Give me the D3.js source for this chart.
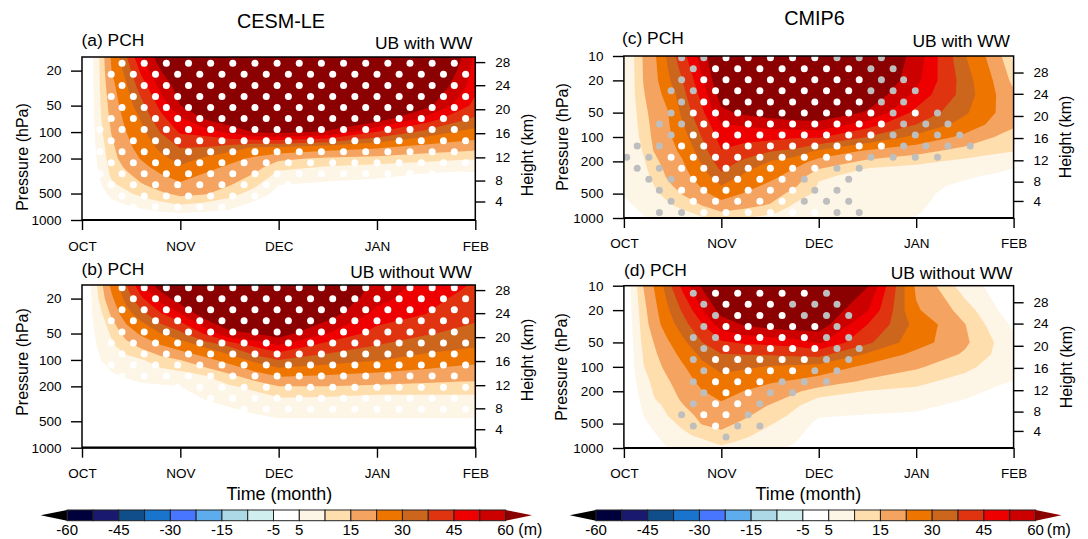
<!DOCTYPE html>
<html lang="en">
<head>
    <meta charset="utf-8">
    <title>PCH composites</title>
    <script type="text/javascript" src="https://cdn.jsdelivr.net/npm/d3@7"></script>
    <style type="text/css">
        html, body { margin: 0; padding: 0; background: #fff; }
        svg { display: block; }
        text { font-family: "Liberation Sans", Arial, sans-serif; fill: #000; }
    </style>
</head>
<body>
    <script type="text/javascript">
        // Grid axes of the anomaly fields (months after 1 Oct, hPa from the surface up)
        const timeMonths = [0, 0.1, 0.2, 0.3, 0.45, 0.6, 0.8, 1, 1.25, 1.5, 1.75, 2, 2.5, 3, 3.5, 3.85, 4];
        const pressureCesm = [1000, 850, 700, 500, 400, 300, 250, 200, 150, 100, 70, 50, 30, 20, 14];
        const pressureCmip = [1000, 850, 700, 500, 400, 300, 250, 200, 150, 100, 70, 50, 30, 20, 10];

        // Tick labels
        const monthLabels = ["OCT", "NOV", "DEC", "JAN", "FEB"];
        const pressureTicksCesm = [1000, 500, 200, 100, 50, 20];
        const pressureTicksCmip = [1000, 500, 200, 100, 50, 20, 10];
        const heightKm = [4, 8, 12, 16, 20, 24, 28];
        const heightPressure = [616, 356, 194, 103, 55, 29.3, 16];

        // Colour levels (m)
        const fillLevels = [5, 10, 15, 22, 30, 37, 45, 52, 60];
        const fillColors = ["#fdf5e6", "#ffdead", "#f4a460", "#ee7600", "#cd661d", "#e03410", "#ee0000", "#cd0000", "#8b0000"];
        const barLevels = [-60, -52, -45, -37, -30, -22, -15, -10, -5, 5, 10, 15, 22, 30, 37, 45, 52, 60];
        const barColors = ["#00003c", "#191970", "#104e8b", "#1874cd", "#4876ff", "#5cacee", "#add8e6", "#d1eeee", "#ffffff",
            "#fdf5e6", "#ffdead", "#f4a460", "#ee7600", "#cd661d", "#e03410", "#ee0000", "#cd0000"];
        const barLabels = [-60, -45, -30, -15, -5, 5, 15, 30, 45, 60];

        // Anomaly per time column, bottom (1000 hPa) to top
        const fieldA = [
            [0,0,0,0,0,0,0,0,0,0,0,0,0,0,0],
            [0,0,0,0.5,1,1.5,2,2.5,3,3.2,3.5,3.6,3.7,3.8,3.9],
            [0,0.5,1.5,3.5,5,6.5,7.2,7.7,8.2,9.5,10.2,10.8,11.5,11.7,12],
            [1,2,3,6.5,9,11,11.5,12.5,13.5,15.3,16.5,17.5,19.5,22,23],
            [1,2,4.5,9,11.5,14,16,18.3,20,22,24,26.2,29.2,32.5,36.2],
            [2,3.5,5.6,11.5,14.3,17.8,20,22.4,24.6,27.7,30.7,34.4,40.8,46.5,52],
            [2.5,4,7.5,14,17.6,22,24.5,27.7,31.8,37.4,42.7,47.3,54.3,60,64],
            [3,4.5,9.1,16.6,20.5,26,29.3,32.8,37.3,46,50.8,60,64,68,72],
            [2.5,4,7.6,15.6,18.2,21.5,24.7,29,36.5,48,61,68,72,74,75],
            [2,3.5,6.2,12.1,15.3,18.6,20.7,24.5,33.8,53.5,67,72,75,76,77],
            [1,1.5,3,8,11.1,14.8,17.4,20.6,29.3,60.5,70,74,76,77,78],
            [0.5,1,1.5,3.5,5,8.7,11.5,16.4,28.8,62,71,75,77,78,78],
            [0.3,0.5,1,2.5,4,7.1,9.6,13.9,25.4,59,68,73,76,77,78],
            [0.3,0.5,1,2,3.5,6,8.6,12.8,22.8,44.5,65,71,74,75.5,76],
            [0.3,0.5,1,2,3,4.8,7.6,11.4,19,34.7,50,63,70,73,74],
            [0.3,0.5,1,1.5,2.5,4,6.5,10.7,17.3,29,39,48,55,58.5,60.5],
            [0.3,0.5,1,1.5,2.5,4.5,6.7,10.4,16.6,27.5,36,43,47,49,50]
        ];
        const fieldB = [
            [0,0,0,0,0,0,0,0,0,0,0,0,0,0,0],
            [0,0,0,0,0,0,0,0.2,0.5,2.5,3.5,4,4.8,5.2,5.5],
            [0,0,0,0,0.3,0.5,0.7,1,2,5.2,6.5,7.5,9.5,12.5,14],
            [0,0,0,0.2,0.5,1,1.5,2,4.4,7,9,10.7,16,20.5,24],
            [0,0,0,0.2,0.5,1,1.5,3,5.7,8.5,12.5,17.5,27,32.5,37],
            [0,0,0,0.5,1,2,3,4.5,6,9.5,16,23.3,34,43.5,50.5],
            [0,0,0,0.5,1,2,3,4.5,7.5,12.5,21,30,44,55,65],
            [0,0,0,0.5,1.2,2.5,3.5,5,8,15,25,35,51.5,65,70],
            [0,0,0.2,1,2.5,4.6,6,7.5,10,19.5,31,46,65,70,72],
            [0,0,0.3,1.5,3.5,6.3,7.7,9.4,13.9,25,37.3,58.5,68,72,74],
            [0,0,0.5,2.5,5.3,7.5,8.8,11.5,18.2,32,45.5,60,70,74,75],
            [0,0.3,1,4.3,6.2,8.9,10.8,15,23,37,51,64,72,75,76],
            [0,0.3,1,4.2,6.2,8.7,10.5,15,21.7,33.4,41,52,64,70,73],
            [0,0.3,1,4.3,6.2,8.5,10,14.2,20,30.5,36.5,42,49.5,54.5,57.5],
            [0,0.3,1,4.3,6.1,8.5,10,13.5,18.5,27,33,37.6,45,47.5,49],
            [0,0.3,1,4.3,6.1,8.5,10,13,17.6,24.5,31.5,35.5,40,43.5,46],
            [0,0.3,1,4.3,6,8.5,10,13,17.3,24,30.5,34.5,39,42.5,44]
        ];
        const fieldC = [
            [2,3,4,5.3,5.6,5.7,5.8,5.8,5.8,5.8,5.8,5.8,5.8,5.8,5.5],
            [3,4,5.1,5.7,6,6.5,6.7,7,7.3,8,8.4,8.7,9.3,9.5,9.7],
            [4.5,5.5,6.3,7,7.4,8.1,8.6,9.3,10.4,11.6,12.3,13,14.5,15.2,15.6],
            [6,7,7.7,8.9,9.7,11.1,12,13.2,14.9,15.9,16.5,17.3,18,18.8,19.7],
            [7,8,9.2,11.5,14,15.8,16.5,17.6,18.9,20.3,21,21.6,24.8,28.4,31.4],
            [7.5,9,11.2,15.4,17,19,20,21.5,23.6,26.8,29.4,31.6,34.5,37,42],
            [9.5,11.4,15,20,22.8,26.3,28.7,30.9,33.6,37.2,40,43.2,47.3,50.5,55.6],
            [9.7,14.7,18.8,25.7,29.8,35.4,38,40.9,44.5,48.2,51.4,58,64,68,72],
            [10,13.5,16.3,21.4,24.4,28.5,31.3,35.4,41,47.7,53,62,70,74,76],
            [8.5,11,14.5,18,20.4,24.2,26.7,29.8,37.3,47.5,54.5,65,72,76,78],
            [7,8,9.3,13.2,15.8,19.4,21.6,26,35,46,56,67,72,76,78],
            [7,7.3,7.8,8.7,9.5,10.7,14.8,19.2,28.4,46,57,67,71,75,77],
            [6.5,6.7,7,7.5,8,8.8,9.5,13.8,20.5,37,48.5,59,67,72,74],
            [4.8,5.5,6,6.5,7,7.7,8.7,11,17,28,37,43,50,54,56.5],
            [0.5,1,1.5,2.8,3.8,6,7.5,9,12.5,20.1,26.8,31.2,34,33.5,30.5],
            [0.3,0.7,1,2,2.8,4,6,8.3,10.5,14.2,18.8,21,20.9,19.5,16.4],
            [0.2,0.5,0.8,1.5,2.3,3.5,4.7,7,10.1,13.2,15.8,17.5,16.2,13.2,8.5]
        ];
        const fieldD = [
            [0,0,0,0,0,0,0,0,0,0,0,0,0,0,0],
            [0,0.2,0.5,1,1.5,2.5,3,3.5,4,4.7,5,5.3,6,6.5,7.5],
            [1,1.5,2.5,4,5,5.8,6.4,7.1,8,9.8,10.4,11.4,12.3,13,15.2],
            [2.5,3.3,4.2,6,7,8.2,9.6,10.2,11.1,12.4,13.5,14.8,17.4,18.8,21.7],
            [5,6,7,8.8,10,11.3,12.2,13.1,14.4,16.7,18.9,21,26.5,29,34],
            [7,8,9,10.9,12.2,14.6,15.8,16.9,18.2,21,24,28,33.5,38,47],
            [8,9,11,15.3,16.7,18.8,20,21.7,24.2,27.9,31.9,36.7,44.5,51.5,61],
            [9,11,13.5,16.7,18.5,20.9,22.5,24.5,27.5,32,36.7,43.8,56,63,72],
            [8,9,10.7,13.7,15.7,18.2,19.7,21.7,25.5,31,37.2,46.2,61,68,76],
            [6,7,8,10.4,12.2,14.6,16.9,19.5,22.8,29.5,37.6,47.2,64,70,76],
            [4.4,5.2,6.2,7.8,9,10.7,13.1,16,21.3,28.6,38.6,48.5,65.6,71,76],
            [0.8,1.3,2,3.8,5.4,7.8,9.3,12.5,18.7,27.6,39.5,53.2,64.5,68,74],
            [0.5,1,1.5,3.3,4.7,6.9,8.2,9.8,14,20,29,38.5,45,52.5,60.5],
            [0.5,1,1.5,3,4.2,6.2,7.5,8.9,11.3,15.8,19.8,25.5,27.5,23,20.5],
            [0.2,0.5,0.8,1.5,2.5,3.8,5,6.4,8.2,11.4,14.3,16,15.2,12.4,7.2],
            [0.1,0.2,0.4,0.8,1.3,2.2,3,4,5.7,7.5,8.7,9,6.5,4.8,3.2],
            [0.1,0.2,0.3,0.6,1,1.8,2.5,3.5,4.9,5.8,6.2,5.8,4.3,3,1.5]
        ];

        // Significance stipples, one string per row from the top: w = white, g = grey, . = none
        const dotsA = [
            ".wwwwwwwwwwwwwwww", "wwwwwwwwwwwwwwwww", ".wwwwwwwwwwwwwwww", "wwwwwwwwwwwwwwwww",
            ".wwwwwwwwwwwwwwww", "wwwwwwwwwwwwwwwww", "wwwwwwwwwwwwwwwww", "wwwwwwwwwwwwwwwww",
            "wwwwwwwwwwwwwwwww", "wwwwwwwwwwwwwwwww", "wwwwwwwwwwwwwwww.", "wwwwwwwww........",
            ".wwwwwww.........", ".wwwww..........."
        ];
        const dotsB = [
            ".wwwwwwwwwwwwwwww", ".wwwwwwwwwwwwwwww", ".wwwwwwwwwwwwwwww", "wwwwwwwwwwwwwwwww",
            ".wwwwwwwwwwwwwwww", "wwwwwwwwwwwwwwwww", ".wwwwwwwwwwwwwwww", "wwwwwwwwwwwwwwwww",
            ".wwwwwwwwwwwwwwww", "...wwwwwwwwwwwwww", ".....wwwwwwwwwwww", "......wwwwwwwwwww"
        ];
        const dotsC = [
            "..ggwwwwwggg....", "...gwwwwwwwgg...", "..gwwwwwwwwgg...", "..ggwwwwwwwggg..",
            "..gwwwwwwwwgg...", "..gwwwwwwwwwgwg.", ".ggwwwwwwwwwggg.", "..gwwwwwwwwwgggg",
            "ggwwwwwwwwwwgggg", "ggwwwwwwwwwgggg.", "ggwwwwwwwgg.....", ".ggwwwwwg.g.....",
            ".gwwwwwwgg......", "..gwwwwwggg.....", ".ggwwwwwwgg....."
        ];
        const dotsD = [
            "...gwwwwwg......", "...gwwwggg......", "....gwwwggg.....", "...gwwwwwg......",
            "...ggwwwwgg.....", "...gwwwwwgg.....", "...gwwwwwgg.....", "...gwwwwgg......",
            "...gwwwggg......", "...gwwgg........", "...gwwg.........", "..gwwg..........",
            "...gwgg.........", "....g..........."
        ];

        const w = 1088;
        const h = 539;

        const svg = d3.select("body")
            .append("svg")
            .attr("width", w)
            .attr("height", h);

        // Panels
        const panels = [
            { id: "a", field: fieldA, dots: dotsA, pressure: pressureCesm, ticks: pressureTicksCesm,
              x0: 82, x1: 475.3, y0: 57, y1: 220, top: 14, dotX: [99.9, 111.2], dotY: 63.3, flip: 0, step: 22.15,
              tag: "(a) PCH", tagX: 81.5, tagY: 46, note: "UB with WW", noteX: 472.5, noteY: 49,
              pLabelX: 28, pLabelY: 157, hLabelX: 532.5, hLabelY: 155, labelPad: 11 },
            { id: "b", field: fieldB, dots: dotsB, pressure: pressureCesm, ticks: pressureTicksCesm,
              x0: 82, x1: 475.3, y0: 285, y1: 447.7, top: 14, dotX: [99.9, 111.2], dotY: 287.7, flip: 0, step: 22.15,
              tag: "(b) PCH", tagX: 81.5, tagY: 275, note: "UB without WW", noteX: 472, noteY: 278,
              pLabelX: 28, pLabelY: 362, hLabelX: 532.5, hLabelY: 360, labelPad: 11 },
            { id: "c", field: fieldC, dots: dotsC, pressure: pressureCmip, ticks: pressureTicksCmip,
              x0: 623.9, x1: 1013.6, y0: 56, y1: 218, top: 10, dotX: [637.2, 626.7], dotY: 57.7, flip: 0, step: 22.2,
              tag: "(c) PCH", tagX: 622, tagY: 44, note: "UB with WW", noteX: 1010, noteY: 47,
              pLabelX: 568, pLabelY: 137, hLabelX: 1071, hLabelY: 137, labelPad: 10.5 },
            { id: "d", field: fieldD, dots: dotsD, pressure: pressureCmip, ticks: pressureTicksCmip,
              x0: 623.9, x1: 1013.6, y0: 285.7, y1: 448, top: 10, dotX: [637.2, 626.7], dotY: 293.3, flip: 1, step: 22.2,
              tag: "(d) PCH", tagX: 624, tagY: 276, note: "UB without WW", noteX: 1012.5, noteY: 279,
              pLabelX: 567, pLabelY: 367, hLabelX: 1072, hLabelY: 367, labelPad: 10.5 }
        ];

        panels.forEach(drawPanel);

        function drawPanel(p) {
            const x = d3.scaleLinear().domain([0, 4]).range([p.x0, p.x1]);
            const y = d3.scaleLog().domain([1000, p.top]).range([p.y1, p.y0]);
            const heightScale = d3.scaleLinear().domain(heightKm).range(heightPressure.map(function(d) { return y(d); }));

            // Contour coordinates are grid index + 0.5; these map them back onto the uneven grid
            const colX = d3.scaleLinear().domain(d3.range(timeMonths.length)).range(timeMonths.map(function(d) { return x(d); })).clamp(true);
            const rowY = d3.scaleLinear().domain(d3.range(p.pressure.length)).range(p.pressure.map(function(d) { return y(d); })).clamp(true);
            const path = d3.geoPath(d3.geoTransform({
                point: function(cx, cy) { this.stream.point(colX(cx - 0.5), rowY(cy - 0.5)); }
            }));

            const nx = timeMonths.length;
            const ny = p.pressure.length;
            const flat = d3.merge(d3.transpose(p.field));
            const bands = d3.contours().size([nx, ny]).smooth(true).thresholds(fillLevels)(flat);

            svg.append("clipPath").attr("id", "clip-" + p.id)
                .append("rect")
                .attr("x", p.x0).attr("y", p.y0)
                .attr("width", p.x1 - p.x0).attr("height", p.y1 - p.y0);

            const plot = svg.append("g").attr("clip-path", "url(#clip-" + p.id + ")");

            plot.selectAll("path.band")
                .data(bands)
                .enter()
                .append("path")
                .attr("class", "band")
                .attr("d", path)
                .style("fill", function(d, i) { return fillColors[i]; });

            // Stipples sit on a staggered grid, so every other row shifts half a step
            const cells = [];
            p.dots.forEach(function(row, r) {
                row.split("").forEach(function(c, i) {
                    if (c !== ".") cells.push({ r: r, i: i, c: c });
                });
            });
            plot.selectAll("circle")
                .data(cells)
                .enter()
                .append("circle")
                .attr("cx", function(d) { return p.dotX[(d.r + p.flip) % 2] + d.i * p.step; })
                .attr("cy", function(d) { return p.dotY + d.r * 11.05; })
                .attr("r", 3.5)
                .style("fill", function(d) { return d.c === "w" ? "#ffffff" : "#bebebe"; });

            // Axes
            const left = svg.append("g")
                .attr("transform", "translate(" + p.x0 + ",0)")
                .call(d3.axisLeft(y).tickValues(p.ticks).tickFormat(function(d) { return d; }).tickSize(11).tickPadding(9.5));
            const right = svg.append("g")
                .attr("transform", "translate(" + p.x1 + ",0)")
                .call(d3.axisRight(heightScale).tickValues(heightKm).tickFormat(function(d) { return d; }).tickSize(10).tickPadding(10));
            const bottom = svg.append("g")
                .attr("transform", "translate(0," + p.y1 + ")")
                .call(d3.axisBottom(x).tickValues([0, 1, 2, 3, 4]).tickFormat(function(d) { return monthLabels[d]; }).tickSize(10).tickPadding(p.labelPad));
            [left, right, bottom].forEach(function(g) {
                g.select(".domain").remove();
                g.selectAll(".tick line").style("stroke", "#000").style("stroke-width", 1.4);
                g.selectAll(".tick text").style("font-size", "13.5px").style("font-family", '"Liberation Sans", Arial, sans-serif');
            });

            // Frame
            svg.append("rect")
                .attr("x", p.x0).attr("y", p.y0)
                .attr("width", p.x1 - p.x0).attr("height", p.y1 - p.y0)
                .style("fill", "none").style("stroke", "#000").style("stroke-width", 1.5);
            svg.append("line")
                .attr("x1", p.x0).attr("x2", p.x1)
                .attr("y1", p.y1).attr("y2", p.y1)
                .style("stroke", "#000").style("stroke-width", 2.2);

            // Labels
            svg.append("text").attr("x", p.tagX).attr("y", p.tagY).style("font-size", "17.4px").text(p.tag);
            svg.append("text").attr("x", p.noteX).attr("y", p.noteY).attr("text-anchor", "end").style("font-size", "17.4px").text(p.note);
            svg.append("text")
                .attr("transform", "translate(" + p.pLabelX + "," + p.pLabelY + ") rotate(-90)")
                .attr("text-anchor", "middle").style("font-size", "16px").text("Pressure (hPa)");
            svg.append("text")
                .attr("transform", "translate(" + p.hLabelX + "," + p.hLabelY + ") rotate(-90)")
                .attr("text-anchor", "middle").style("font-size", "16px").text("Height (km)");
        }

        // Column titles and time labels
        svg.append("text").attr("x", 281).attr("y", 28).attr("text-anchor", "middle").style("font-size", "19.8px").text("CESM-LE");
        svg.append("text").attr("x", 814.5).attr("y", 25).attr("text-anchor", "middle").style("font-size", "19.8px").text("CMIP6");
        svg.append("text").attr("x", 279.3).attr("y", 500).attr("text-anchor", "middle").style("font-size", "17.9px").text("Time (month)");
        svg.append("text").attr("x", 808.4).attr("y", 500).attr("text-anchor", "middle").style("font-size", "17.9px").text("Time (month)");

        // Colour bars
        drawBar(67.2, 505.6, 40.6, 532, 518.3);
        drawBar(596, 1035.6, 569.7, 1061.4, 1046.8);

        function drawBar(xa, xb, tipL, tipR, unitX) {
            const bx = d3.scalePoint().domain(barLevels).range([xa, xb]);
            const top = 510;
            const bot = 520.7;
            const bar = svg.append("g");

            bar.append("path")
                .attr("d", d3.line()([[xa, top], [tipL, (top + bot) / 2], [xa, bot]]) + "Z")
                .style("fill", "#000000");
            bar.append("path")
                .attr("d", d3.line()([[xb, top], [tipR, (top + bot) / 2], [xb, bot]]) + "Z")
                .style("fill", "#8b0000");

            bar.selectAll("rect")
                .data(barColors)
                .enter()
                .append("rect")
                .attr("x", function(d, i) { return bx(barLevels[i]); })
                .attr("y", top)
                .attr("width", function(d, i) { return bx(barLevels[i + 1]) - bx(barLevels[i]); })
                .attr("height", bot - top)
                .style("fill", function(d) { return d; })
                .style("stroke", "#222")
                .style("stroke-width", 1);

            bar.selectAll("text")
                .data(barLabels)
                .enter()
                .append("text")
                .attr("x", function(d) { return bx(d); })
                .attr("y", 535)
                .attr("text-anchor", "middle")
                .style("font-size", "15px")
                .text(function(d) { return d; });

            bar.append("text").attr("x", unitX).attr("y", 535).style("font-size", "16px").text("(m)");
        }
    </script>
</body>
</html>
